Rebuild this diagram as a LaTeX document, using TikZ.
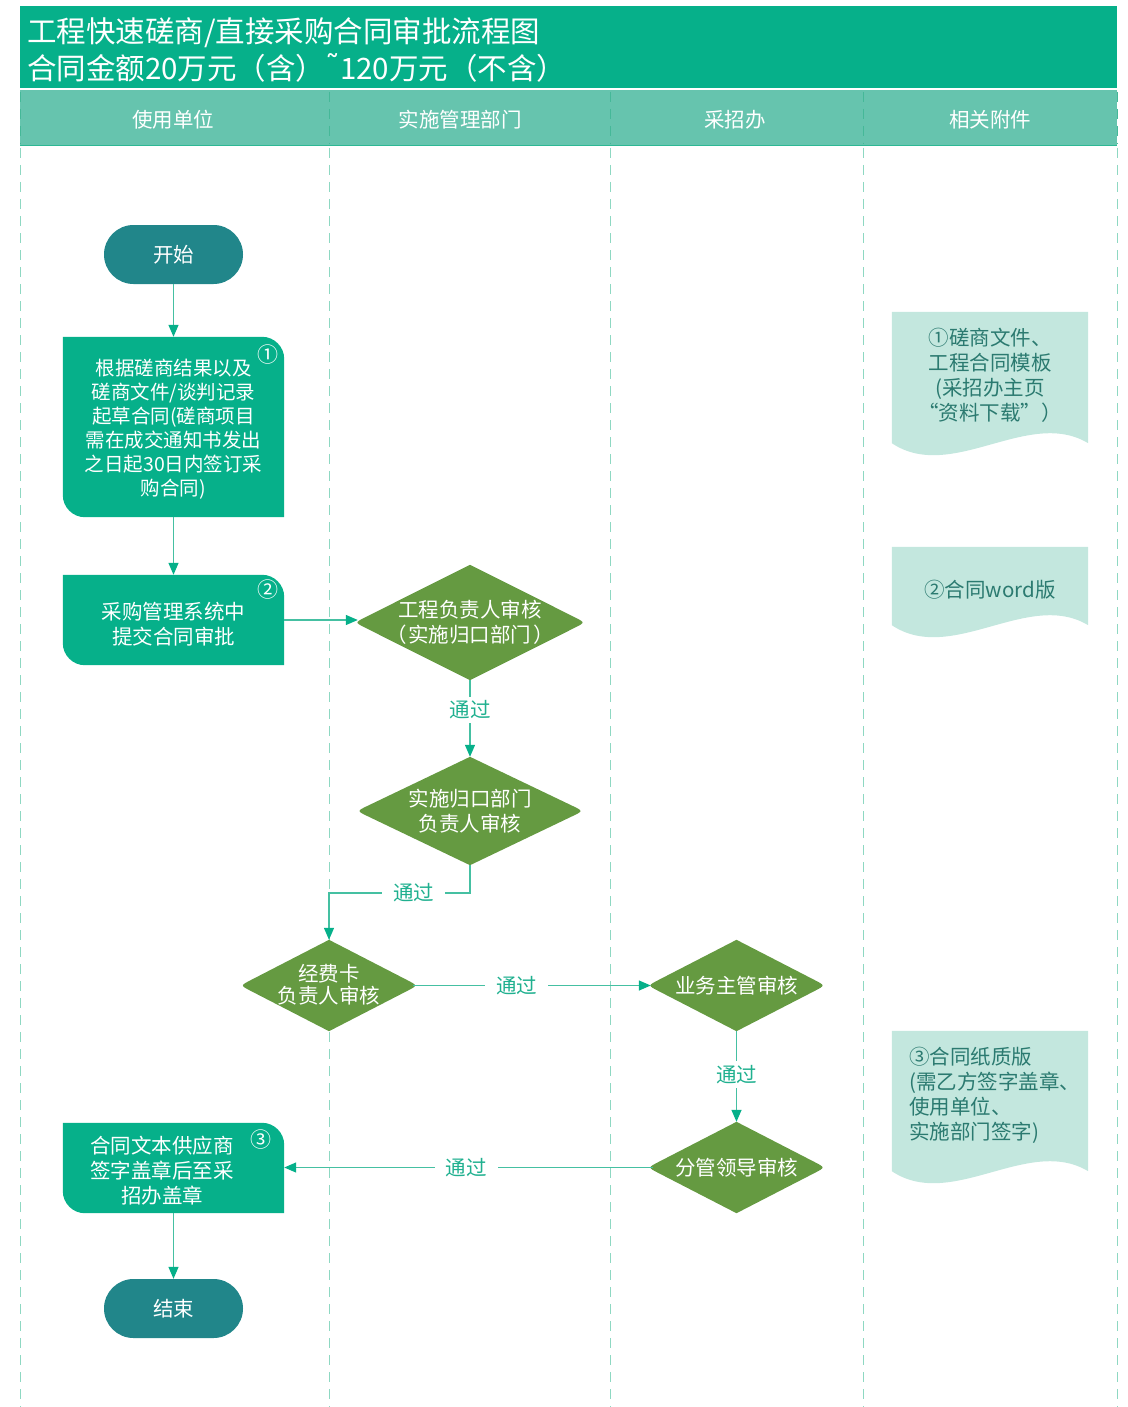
\documentclass[tikz,border=0pt]{standalone}
\usepackage{fontspec}
\setmainfont{Noto Sans CJK SC}
\newfontfamily\dejavu{DejaVu Sans}
\usetikzlibrary{arrows.meta,calc,backgrounds}
\definecolor{titlegreen}{HTML}{06B08A}
\definecolor{headgreen}{HTML}{66C4AE}
\definecolor{headline}{HTML}{2DB894}
\definecolor{lanecol}{HTML}{8ED8C2}
\definecolor{laneheadcol}{HTML}{45B898}
\definecolor{termcol}{HTML}{21868A}
\definecolor{boxcol}{HTML}{06B08A}
\definecolor{diacol}{HTML}{659A41}
\definecolor{doccol}{HTML}{C3E7DE}
\definecolor{doctext}{HTML}{2B7A70}
\definecolor{linecol}{HTML}{45C0A2}
\definecolor{tipcol}{HTML}{06B08A}
\definecolor{lblcol}{HTML}{1FB08F}
\tikzset{
 fs/.style={font=\fontsize{20.5}{25}\selectfont},
 term/.style={fs, text=white, fill=termcol, rounded corners=29.5pt, minimum width=139pt, minimum height=59pt, inner sep=0pt},
 procbox/.style={minimum width=221pt, inner sep=0pt},
 btext/.style={fs,text=white,align=center,inner sep=0pt},
 dianode/.style={fs,text=white,align=center,inner sep=0pt},
 docnode/.style={minimum width=196pt,inner sep=0pt},
 doctxt/.style={fs,text=doctext,inner sep=0pt},
 circnum/.style={font=\fontsize{21}{21}\selectfont,text=white,inner sep=0pt},
 conn/.style={draw=linecol, line width=1.3pt, -{Triangle[length=12pt,width=10pt,color=tipcol]}},
 lbl/.style={fs,text=lblcol,fill=white,inner xsep=11pt,inner ysep=4pt},
 lane/.style={draw=lanecol,line width=1pt,dash pattern=on 10pt off 7pt},
 headtxt/.style={fs,text=white,inner sep=0pt},
 titletxt/.style={font=\fontsize{29.5}{30}\selectfont,text=white,inner sep=0pt,anchor=west},
}
\newcommand\procshape[1]{\fill[boxcol] (#1.north west) -- ($(#1.north east)+(-22,0)$) .. controls ($(#1.north east)+(-10,0)$) and ($(#1.north east)+(0,10)$) .. ($(#1.north east)+(0,22)$) -- (#1.south east) -- ($(#1.south west)+(22,0)$) .. controls ($(#1.south west)+(10,0)$) and ($(#1.south west)+(0,-10)$) .. ($(#1.south west)+(0,-22)$) -- cycle;}
\newcommand\diashape[1]{\fill[diacol] (#1.north) -- ($(#1.east)!12pt!(#1.north)$) .. controls (#1.east) .. ($(#1.east)!12pt!(#1.south)$) -- (#1.south) -- ($(#1.west)!12pt!(#1.south)$) .. controls (#1.west) .. ($(#1.west)!12pt!(#1.north)$) -- cycle;}
\newcommand\docshape[1]{\fill[doccol] (#1.north west) -- (#1.north east) -- ($(#1.south east)+(0,-12)$) .. controls ($(#1.south east)+(-60,-48)$) and ($(#1.south west)+(60,28)$) .. ($(#1.south west)+(0,-12)$) -- cycle;}
\begin{document}
\begin{tikzpicture}[x=1pt,y=-1pt]
\useasboundingbox (0,0) rectangle (1127,1407);
% title
\node[titletxt] (title1) at (27,33) {工程快速磋商/直接采购合同审批流程图};
\node[titletxt] (title2) at (27,68) {合同金额20万元（含）{\dejavu\raisebox{0.12em}{˜}}120万元（不含）};
% header
\node[headtxt] (h1) at (173,120) {使用单位};
\node[headtxt] (h2) at (460,120) {实施管理部门};
\node[headtxt] (h3) at (735,120) {采招办};
\node[headtxt] (h4) at (990,120) {相关附件};
% terminals
\node[term] (start) at (173.5,254.5) {开始};
\node[term] (finish) at (173.5,1308.5) {结束};
% process boxes
\node[procbox, minimum height=180pt] (b1) at (173.5,427) {};
\node[btext, font=\fontsize{19.5}{24}\selectfont] (b1t) at (173.5,429) {根据磋商结果以及\\磋商文件/谈判记录\\起草合同(磋商项目\\需在成交通知书发出\\之日起30日内签订采\\购合同)};
\node[circnum] (n1) at (268,355) {①};
\node[procbox, minimum height=90pt] (b2) at (173.5,620) {};
\node[btext] (b2t) at (173.5,624) {采购管理系统中\\提交合同审批};
\node[circnum] (n2) at (268,590) {②};
\node[procbox, minimum height=90pt] (b3) at (173.5,1168) {};
\node[btext] (b3t) at (162,1171) {合同文本供应商\\签字盖章后至采\\招办盖章};
\node[circnum] (n3) at (261,1140) {③};
% diamonds
\node[dianode, minimum width=230pt, minimum height=115pt] (d1) at (470,622.5) {工程负责人审核\\（\hspace{2pt}实施归口部门\hspace{2pt}）};
\node[dianode, minimum width=226pt, minimum height=108pt] (d2) at (470,811) {实施归口部门\\负责人审核};
\node[dianode, minimum width=177pt, minimum height=91pt] (d3) at (329,985.5) {\raisebox{3pt}{\shortstack{经费卡\\负责人审核}}};
\node[dianode, minimum width=177pt, minimum height=91pt] (d4) at (736.5,985.5) {业务主管审核};
\node[dianode, minimum width=177pt, minimum height=91pt] (d5) at (736.5,1167.5) {分管领导审核};
% documents
\node[docnode, minimum height=143pt] (doc1) at (990,383.5) {};
\node[doctxt, align=center] (doc1t) at (990,375) {①磋商文件、\\工程合同模板\\(采招办主页\\“资料下载”）};
\node[docnode, minimum height=90pt] (doc2) at (990,592) {};
\node[doctxt] (doc2t) at (990,590) {②合同word版};
\node[docnode, minimum height=152pt] (doc3) at (990,1107) {};
\node[doctxt, align=left, anchor=west] (doc3t) at (909,1095.5) {③合同纸质版\\(需乙方签字盖章、\\使用单位、\\实施部门签字)};
% connectors
\coordinate (k1) at (470,893);
\coordinate (k2) at (329,893);
\draw[conn] (start.south) -- (b1.north);
\draw[conn] (b1.south) -- (b2.north);
\draw[conn, shorten >=-3pt] (b2.east) -- (b2.east -| d1.west);
\draw[conn] (d1.south) -- node[lbl,pos=0.39] (l1) {通过} (d2.north);
\draw[conn] (d2.south) -- (k1) -- node[lbl,pos=0.4] (l2) {通过} (k2) -- (d3.north);
\draw[conn, shorten <=-5pt, shorten >=-3pt] (d3.east) -- node[lbl,pos=0.43] (l3) {通过} (d4.west);
\draw[conn] (d4.south) -- node[lbl,pos=0.48] (l4) {通过} (d5.north);
\draw[conn, shorten <=-5pt] (d5.west) -- node[lbl,pos=0.5] (l5) {通过} (b3.east |- d5.west);
\draw[conn] (b3.south) -- (finish.north);
% background
\begin{pgfonlayer}{background}
\fill[titlegreen] (20,6) rectangle (1117,88);
\fill[headgreen] (20,90) rectangle (1117,145);
\draw[headline,line width=1.5pt] (20,145.5) -- (1117,145.5);
\foreach \x in {20,329,610,863,1117} {
  \draw[lane] (\x,148) -- (\x,1407);
  \draw[lane, draw=laneheadcol] (\x,92) -- (\x,144);
}
\procshape{b1}
\procshape{b2}
\procshape{b3}
\diashape{d1}
\diashape{d2}
\diashape{d3}
\diashape{d4}
\diashape{d5}
\docshape{doc1}
\docshape{doc2}
\docshape{doc3}
\end{pgfonlayer}
\end{tikzpicture}
\end{document}
